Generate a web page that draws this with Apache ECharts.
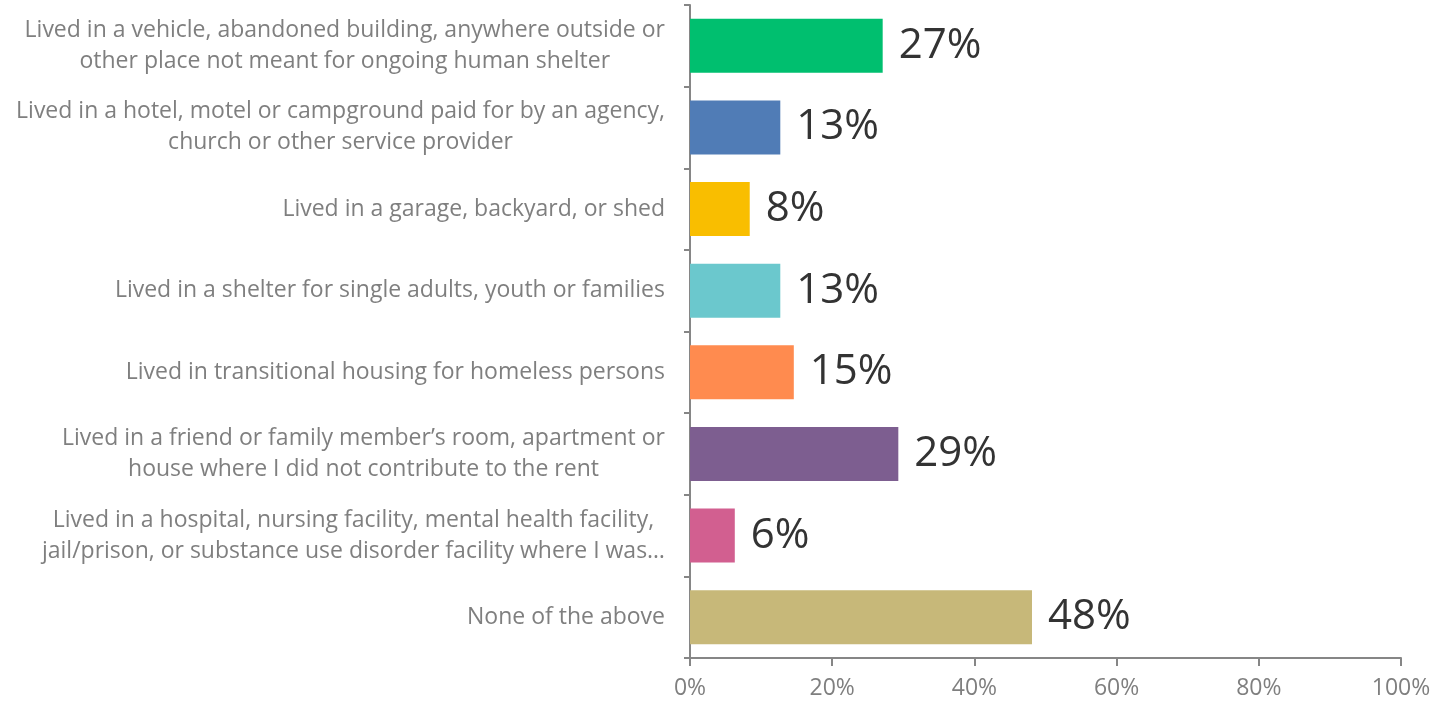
<!DOCTYPE html>
<html>
<head>
<meta charset="utf-8">
<script src="https://cdn.jsdelivr.net/npm/echarts@6/dist/echarts.min.js"></script>
<style>
  html, body { margin: 0; padding: 0; background: #fff; }
  #chart { width: 1441px; height: 704px; }
</style>
</head>
<body>
<div id="chart"></div>
<script>
const categories = [
  'Lived in a vehicle, abandoned building, anywhere outside or\nother place not meant for ongoing human shelter',
  'Lived in a hotel, motel or campground paid for by an agency,\nchurch or other service provider',
  'Lived in a garage, backyard, or shed',
  'Lived in a shelter for single adults, youth or families',
  'Lived in transitional housing for homeless persons',
  'Lived in a friend or family member\u2019s room, apartment or\nhouse where I did not contribute to the rent',
  'Lived in a hospital, nursing facility, mental health facility,\njail/prison, or substance use disorder facility where I was\u2026',
  'None of the above'
]
const values = [27.1, 12.7, 8.4, 12.7, 14.6, 29.3, 6.3, 48.1]
const barColors = ['#00BF6F', '#507CB6', '#F9BE00', '#6BC8CD', '#FF8B4F', '#7D5E90', '#D25F90', '#C7B879']
const xTicks = [0, 20, 40, 60, 80, 100]

const chart = echarts.init(document.getElementById('chart'))
chart.setOption({
  animation: false,
  backgroundColor: '#fff',
  grid: {
    left: 690,
    right: 40,
    top: 5,
    bottom: 46,
    containLabel: false
  },
  xAxis: {
    type: 'value',
    min: xTicks[0],
    max: xTicks[xTicks.length - 1],
    interval: 20,
    axisLine: { show: true, lineStyle: { color: '#868686', width: 2 } },
    axisTick: { show: true, length: 8, lineStyle: { color: '#868686', width: 2 } },
    splitLine: { show: false },
    axisLabel: {
      formatter: v => v + '%',
      color: '#7f7f7f',
      fontSize: 23,
      fontFamily: 'Open Sans',
      margin: 19
    }
  },
  yAxis: {
    type: 'category',
    inverse: true,
    data: categories,
    axisLine: { show: true, lineStyle: { color: '#868686', width: 2 } },
    axisTick: { show: true, length: 6, lineStyle: { color: '#868686', width: 2 } },
    axisLabel: {
      margin: 25,
      align: 'right',
      // centre each line inside the right-aligned block
      formatter: v => v.split('\n').map(l => '{c|' + l + '}').join('\n'),
      rich: {
        c: {
          align: 'center',
          color: '#7f7f7f',
          fontSize: 23,
          fontFamily: 'Open Sans',
          lineHeight: 31
        }
      }
    }
  },
  series: [{
    type: 'bar',
    barWidth: 54,
    data: values.map((v, i) => ({ value: v, itemStyle: { color: barColors[i] } })),
    label: {
      show: true,
      position: 'right',
      distance: 16,
      formatter: p => Math.round(p.value) + '%',
      color: '#333',
      fontSize: 42,
      fontFamily: 'Open Sans'
    }
  }]
})
</script>
</body>
</html>
